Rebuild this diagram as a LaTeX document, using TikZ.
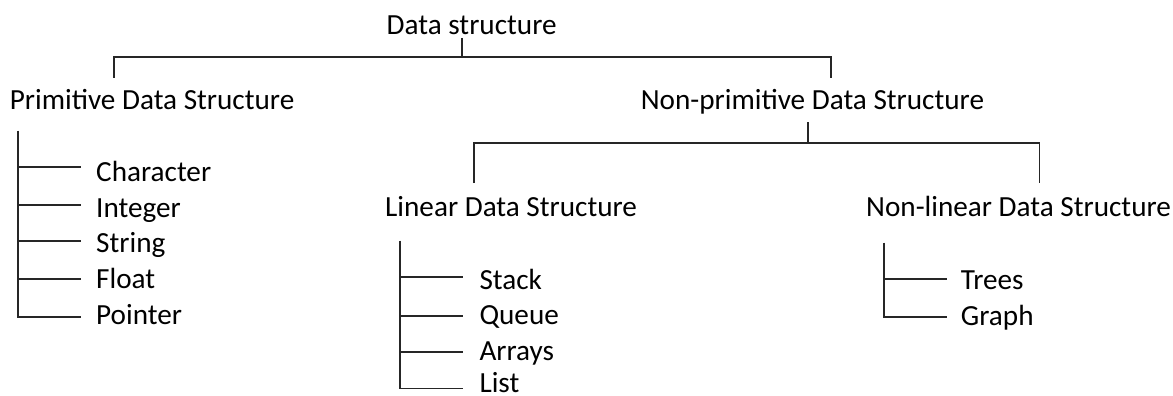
\documentclass[tikz,border=0pt]{standalone}
\usepackage{fontspec}
\setmainfont{Carlito}
\begin{document}
\begin{tikzpicture}[x=1pt,y=-1pt,
  lbl/.style={inner sep=0pt,anchor=base west,font=\fontsize{29.2}{35}\selectfont},
  conn/.style={line width=1.8pt,color=black!85}]
\useasboundingbox (0,0) rectangle (1173,396);

\node[lbl] (ds) at (386.5,34.3) {Data structure};
\node[lbl] (pds) at (9.6,110) {Primitive Data Structure};
\node[lbl] (npds) at (640.6,110) {Non-primitive Data Structure};
\node[lbl] (lds) at (385,216) {Linear Data Structure};
\node[lbl] (nlds) at (866,216) {Non-linear Data Structure};

% brackets
\coordinate (ds-tick) at (462,38);
\coordinate (ds-join) at (462,57);
\coordinate (pds-top) at (114,78);
\coordinate (npds-top) at (830.7,78);
\draw[conn] (pds-top) |- (ds-join) -| (npds-top);
\draw[conn] (ds-tick) -- (ds-join);

\coordinate (npds-tick) at (808.3,122.3);
\coordinate (npds-join) at (808.3,143);
\coordinate (lds-top) at (474,183);
\coordinate (nlds-top) at (1039.5,183);
\draw[conn] (lds-top) |- (npds-join) -| (nlds-top);
\draw[conn] (npds-tick) -- (npds-join);

% primitive
\coordinate (p-trunk) at (17.7,130.7);
\foreach \i/\txt/\y/\b in {1/Character/167.3/181.7,2/Integer/205/217,3/String/241/252.5,4/Float/279.3/288.3,5/Pointer/317.3/324}{
  \coordinate (p\i) at (81,\y);
  \node[lbl] (pl\i) at (96,\b) {\txt};
}
\draw[conn] (p-trunk) |- (p5);
\foreach \i in {1,...,4} \draw[conn] (p-trunk |- p\i) -- (p\i);

% linear
\coordinate (l-trunk) at (400,240.7);
\foreach \i/\txt/\y/\b in {1/Stack/277.3/289,2/Queue/315.7/324.5,3/Arrays/351.7/360,4/List/388.5/392.5}{
  \coordinate (l\i) at (463,\y);
  \node[lbl] (ll\i) at (479.3,\b) {\txt};
}
\draw[conn] (l-trunk) |- (l4);
\foreach \i in {1,...,3} \draw[conn] (l-trunk |- l\i) -- (l\i);

% non-linear
\coordinate (n-trunk) at (884.3,242.7);
\foreach \i/\txt/\y/\b in {1/Trees/279/289,2/Graph/316.7/325.7}{
  \coordinate (n\i) at (947.3,\y);
  \node[lbl] (nl\i) at (960.7,\b) {\txt};
}
\draw[conn] (n-trunk) |- (n2);
\draw[conn] (n-trunk |- n1) -- (n1);
\end{tikzpicture}
\end{document}
